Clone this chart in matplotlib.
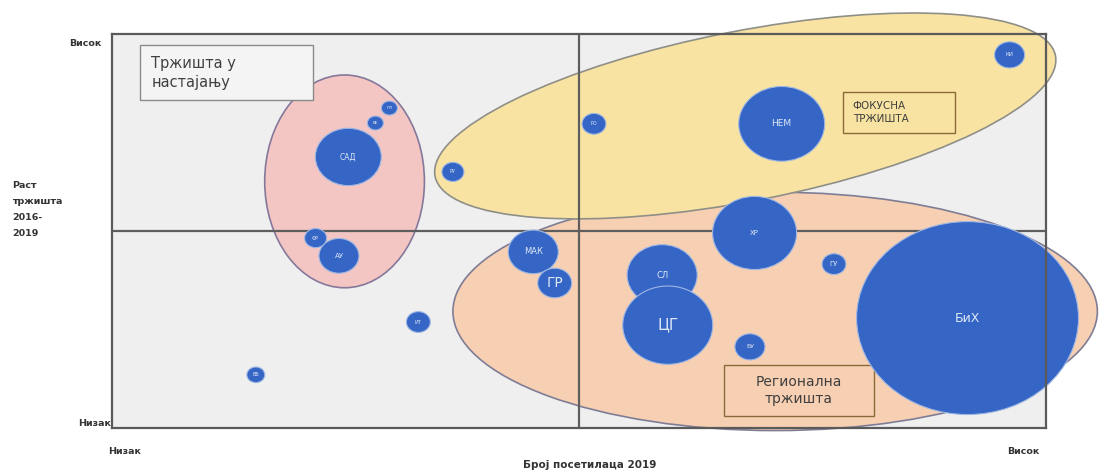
import matplotlib
matplotlib.use("Agg")
import matplotlib.pyplot as plt
from matplotlib.patches import Ellipse, Rectangle
from matplotlib.transforms import IdentityTransform

# ---- data ----
labels = ["ВБ", "ИТ", "АУ", "ФР", "САД", "ПЛ", "ВЕ", "РУ", "РО", "НЕМ", "КИ",
          "МАК", "ГР", "СЛ", "ЦГ", "ХР", "БУ", "ГУ", "БиХ"]
visitors = [15.4, 32.8, 24.3, 21.8, 25.3, 29.7, 28.2, 36.5, 51.6, 71.7, 96.1,
            45.1, 47.4, 58.9, 59.5, 68.8, 68.3, 77.3, 91.6]
growth = [13.5, 26.9, 43.7, 48.2, 68.8, 81.2, 77.4, 65.0, 77.2, 77.2, 94.7,
          44.7, 36.8, 38.8, 26.1, 49.5, 20.6, 41.6, 27.9]
bubble_r = [0.96, 1.28, 2.14, 1.18, 3.53, 0.86, 0.86, 1.18, 1.28, 4.60, 1.61,
            2.68, 1.82, 3.75, 4.82, 4.50, 1.61, 1.28, 11.88]
label_fs = [3.5, 3.5, 5, 3.5, 5.5, 3, 3, 3.5, 3.5, 6.5, 4,
            6, 10, 6, 11, 5, 4.5, 5, 9]

W, H = 1104, 472
fig = plt.figure(figsize=(W / 100, H / 100), dpi=100)
ax = fig.add_axes([112 / W, 1 - 428 / H, 934 / W, 394 / H])
ax.set_xlim(0, 100)
ax.set_ylim(0, 100)
ax.set_facecolor("#efefef")
ax.set_xticks([])
ax.set_yticks([])
for s in ax.spines.values():
    s.set_color("#5a5a5a")
    s.set_linewidth(1.6)
    s.set_zorder(6)

# pixel scale of data units
px_x = 934 / 100.0
px_y = 394 / 100.0
aspect = 1.15

# group ellipses
pink = Ellipse((24.9, 62.6), 17.1, 54.0, facecolor="#f3c6c4", edgecolor="#85789a",
               lw=1.2, zorder=2, clip_on=False)
peach = Ellipse((71.0, 29.6), 69.0, 60.5, facecolor="#f7cfb2", edgecolor="#7f7d95",
                lw=1.2, zorder=2, clip_on=False)
ax.add_patch(peach)
ax.add_patch(pink)
fig.canvas.draw()
cx, cy = ax.transData.transform((67.8, 79.2))
yellow = Ellipse((cx, cy), 632, 170, angle=11, transform=IdentityTransform(),
                 facecolor="#f8e3a2", edgecolor="#8f8f88", lw=1.2, zorder=2.5,
                 clip_on=False)
ax.add_patch(yellow)

# quadrant lines
ax.axvline(50, color="#5e5e5e", lw=1.6, zorder=3)
ax.axhline(50, color="#5e5e5e", lw=1.6, zorder=3)

# bubbles
for lab, x, y, r, fs in zip(labels, visitors, growth, bubble_r, label_fs):
    w = 2 * r
    h = 2 * r * px_x / px_y / aspect
    ax.add_patch(Ellipse((x, y), w, h, facecolor="#3565c5", edgecolor="#9fb7e3",
                         lw=0.8, zorder=4, clip_on=False))
    ax.text(x, y, lab, ha="center", va="center", fontsize=fs, color="#dfe8f7",
            zorder=5)

# annotation boxes
ax.add_patch(Rectangle((3.0, 83.2), 18.5, 14.0, facecolor="#f4f4f4",
                       edgecolor="#8a8a8a", lw=1.0, zorder=3))
ax.text(4.2, 90.2, "Тржишта у\nнастајању", ha="left", va="center", fontsize=10.5,
        color="#404040", linespacing=1.35, zorder=5)

ax.add_patch(Rectangle((78.3, 74.9), 12.0, 10.4, facecolor="none",
                       edgecolor="#8a6a3a", lw=1.0, zorder=3))
ax.text(79.3, 80.1, "ФОКУСНА\nТРЖИШТА", ha="left", va="center", fontsize=7.5,
        color="#404040", linespacing=1.4, zorder=5)

ax.add_patch(Rectangle((65.5, 3.0), 16.1, 13.0, facecolor="none",
                       edgecolor="#8a6a3a", lw=1.0, zorder=3))
ax.text(73.55, 9.5, "Регионална\nтржишта", ha="center", va="center", fontsize=10,
        color="#404040", linespacing=1.35, zorder=5)

# axis texts
kw = dict(fontsize=6.8, fontweight="bold", color="#333333")
fig.text(102 / W, 1 - 44 / H, "Висок", ha="right", va="center", **kw)
fig.text(12 / W, 1 - 181 / H, "Раст\nтржишта\n2016-\n2019", ha="left", va="top",
         linespacing=2.0, **kw)
fig.text(111 / W, 1 - 424 / H, "Низак", ha="right", va="center", **kw)
fig.text(125 / W, 1 - 452 / H, "Низак", ha="center", va="center", **kw)
fig.text(1023 / W, 1 - 452 / H, "Висок", ha="center", va="center", **kw)
fig.text(590 / W, 1 - 465 / H, "Број посетилаца 2019", ha="center", va="center",
         fontsize=7.5, fontweight="bold", color="#333333")

fig.savefig("out.png", dpi=100)
